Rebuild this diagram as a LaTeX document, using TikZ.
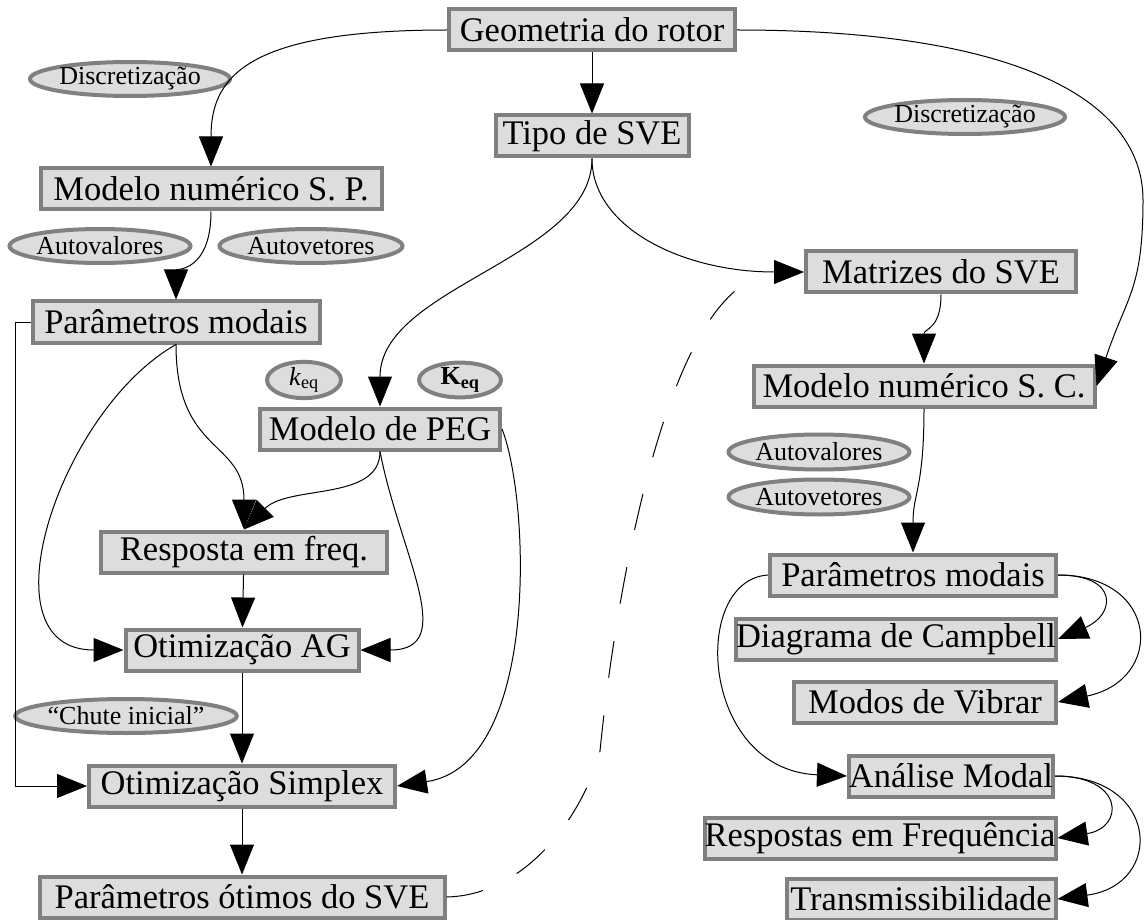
\documentclass[tikz,border=0pt]{standalone}
\usepackage{fontspec}
\setmainfont{Liberation Serif}
\usepackage{xcolor}
\usepackage{tikz}
\usetikzlibrary{calc, arrows.meta, shapes.geometric}
\definecolor{CaixaCinza}{RGB}{221,221,221}
\definecolor{BordaCinza}{RGB}{128,128,128}
\tikzset{
    boxnode/.style={
        draw=BordaCinza, line width=4pt, fill=CaixaCinza, inner xsep=0pt, inner ysep=0pt,
        minimum height=41pt, font=\fontsize{34.5}{40}\selectfont
    },
    ovalnode/.style={
        ellipse, draw=BordaCinza, line width=4pt, fill=CaixaCinza, inner sep=0pt,
        minimum height=34pt, font=\fontsize{26}{30}\selectfont
    },
    ptr/.style={
        -{Triangle[length=30pt, width=24pt]}, line width=1pt, black
    }
}

\begin{document}
\begin{tikzpicture}[
                x=1pt, y=1pt,
                dashptr/.style={line width=1pt, dash pattern=on 37pt off 38pt}
            ]
                \useasboundingbox (0,0) rectangle (1144,-920);

                % 1. CAIXAS DO FLUXO
                \node[boxnode, minimum width=286pt] (geo)   at (592,-30)  {Geometria do rotor};
                \node[boxnode, minimum width=193pt] (tipo)  at (592,-136) {Tipo de SVE};
                \node[boxnode, minimum width=341pt] (msp)   at (211,-189) {Modelo numérico S. P.};
                \node[boxnode, minimum width=287pt] (pml)   at (176,-322) {Parâmetros modais};
                \node[boxnode, minimum width=240pt] (peg)   at (380,-429) {Modelo de PEG};
                \node[boxnode, minimum width=286pt] (resp)  at (244,-552) {Resposta em freq.};
                \node[boxnode, minimum width=233pt] (ag)    at (242,-650) {Otimização AG};
                \node[boxnode, minimum width=306pt] (simp)  at (242,-786) {Otimização Simplex};
                \node[boxnode, minimum width=405pt] (otim)  at (242,-897) {Parâmetros ótimos do SVE};
                \node[boxnode, minimum width=270pt] (mat)   at (941,-272) {Matrizes do SVE};
                \node[boxnode, minimum width=341pt] (msc)   at (924,-386) {Modelo numérico S. C.};
                \node[boxnode, minimum width=286pt] (pmr)   at (913,-575) {Parâmetros modais};
                \node[boxnode, minimum width=319pt] (camp)  at (896,-639) {Diagrama de Campbell};
                \node[boxnode, minimum width=262pt] (modos) at (925,-702) {Modos de Vibrar};
                \node[boxnode, minimum width=204pt] (anal)  at (951,-776) {Análise Modal};
                \node[boxnode, minimum width=351pt] (respf) at (880,-838) {Respostas em Frequência};
                \node[boxnode, minimum width=269pt] (trans) at (921,-899) {Transmissibilidade};

                % 2. ELIPSES (rótulos)
                \node[ovalnode, minimum width=180pt] (discL) at (130,-79)  {Discretização};
                \node[ovalnode, minimum width=186pt] (discR) at (965,-117) {Discretização};
                \node[ovalnode, minimum width=181pt] (avalL) at (100,-246) {Autovalores};
                \node[ovalnode, minimum width=183pt] (avetL) at (311,-246) {Autovetores};
                \node[ovalnode, minimum width=74pt]  (keq)   at (304,-380) {\textit{k}\textsubscript{eq}};
                \node[ovalnode, minimum width=82pt]  (Keq)   at (460,-380) {\textbf{K}\textsubscript{\textbf{eq}}};
                \node[ovalnode, minimum width=181pt, minimum height=35pt] (avalR) at (819,-452) {Autovalores};
                \node[ovalnode, minimum width=181pt, minimum height=35pt] (avetR) at (819,-497) {Autovetores};
                \node[ovalnode, minimum width=203pt] (chute) at (126,-716) {``Chute inicial''};

                \coordinate (curvaR) at (1143,-200);
                \coordinate (meioTr) at (600,-751);
                \coordinate (fimTr)  at (743,-285);

                % 3. LIGAÇÕES
                % Geometria -> modelos numéricos
                \draw[ptr] (geo.west) .. controls +(-200,0) and +(0,90) .. (msp.north);
                \draw[ptr] (geo) -- (tipo);
                \draw[ptr] (geo.east) .. controls +(280,0) and +(0,100) .. (curvaR)
                    .. controls +(0,-90) and +(30,90) .. (msc.east);

                % Tipo de SVE
                \draw[ptr] (tipo.south) .. controls +(0,-100) and +(0,120) .. (peg.north);
                \draw[ptr] (tipo.south) .. controls +(0,-70) and +(-120,0) .. (mat.west);

                % Lado esquerdo
                \draw[ptr] (msp.south) .. controls +(0,-60) and +(0,30) .. (pml.north);
                \draw[ptr] (pml.west) -- ++(-15,0) |- (simp.west);
                \draw[ptr] (pml.south) .. controls (60,-410) and (-20,-650) .. (ag.west);
                \draw[ptr] (pml.south) .. controls +(0,-110) and +(0,90) .. (resp.north);
                \draw[ptr] (peg.south) .. controls +(0,-50) and +(45,45) .. (resp.north);
                \draw[ptr] (peg.south) .. controls +(20,-103) and +(99,0) .. (ag.east);
                \draw[ptr] (peg.east) .. controls +(28,-71) and +(143,21) .. (simp.east);
                \draw[ptr] (resp) -- (ag);
                \draw[ptr] (ag) -- (simp);
                \draw[ptr] (simp) -- (otim);

                % Trajeto tracejado até as matrizes
                \draw[dashptr] (otim.east) .. controls +(83,2) and +(-15,-59) .. (meioTr)
                    .. controls +(15,151) and +(-83,-55) .. (fimTr);

                % Lado direito
                \draw[ptr] (mat.south) .. controls +(0,-35) and +(0,35) .. (msc.north);
                \draw[ptr] (msc.south) .. controls +(0,-80) and +(0,60) .. (pmr.north);
                \draw[ptr] (pmr.east) .. controls +(62,0) and +(57,24) .. (camp.east);
                \draw[ptr] (pmr.east) .. controls +(102,0) and +(107,22) .. (modos.east);
                \draw[ptr] (pmr.west) .. controls +(-78,-5) and +(-147,6) .. (anal.west);
                \draw[ptr] (anal.east) .. controls +(70,0) and +(67,10) .. (respf.east);
                \draw[ptr] (anal.east) .. controls +(105,0) and +(107,14) .. (trans.east);

            \end{tikzpicture}
\end{document}
